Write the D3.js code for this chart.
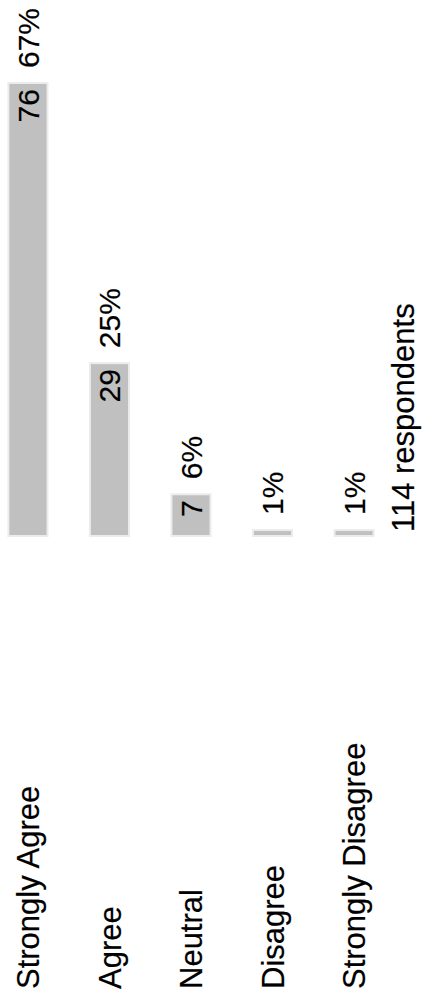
<!DOCTYPE html>
<html>
<head>
<meta charset="utf-8">
<script src="https://cdn.jsdelivr.net/npm/d3@7"></script>
<style>
  body { margin: 0; background: #fff; }
  text { font-family: "Liberation Sans", Arial, sans-serif; fill: #000; stroke: #000; stroke-width: 0.2px; }
</style>
</head>
<body>
<svg class="chart" width="422" height="1000"></svg>
<script>
var categories = ["Strongly Agree", "Agree", "Neutral", "Disagree", "Strongly Disagree"];
var counts = [76, 29, 7, 1, 1];
var respondents = 114;

var svg = d3.select("svg.chart"),
  width = +svg.attr("width"),
  height = +svg.attr("height");

var data = categories.map(function(c, i) {
  return {label: c, count: counts[i], pct: Math.round(counts[i] / respondents * 100)};
});

// chart is drawn turned on its side: bars grow upward, text reads bottom-to-top
var x = d3.scaleBand()
  .domain(categories)
  .range([-12.8, 394.8])
  .paddingInner(0.52)
  .paddingOuter(0.26);

var y = d3.scaleLinear()
  .domain([0, d3.max(counts)])
  .range([536, 83]);

var g = svg.append("g");

g.selectAll(".bar")
  .data(data)
  .enter().append("rect")
  .attr("class", "bar")
  .attr("x", function(d) { return x(d.label); })
  .attr("y", function(d) { return y(d.count); })
  .attr("width", x.bandwidth())
  .attr("height", function(d) { return y(0) - y(d.count); })
  .attr("fill", "#c0c0c0")
  .attr("stroke", "#ececec")
  .attr("stroke-width", 2);

// percentage above each bar
g.selectAll(".pct")
  .data(data)
  .enter().append("text")
  .attr("class", "pct")
  .attr("transform", function(d) {
    return "translate(" + (x(d.label) + x.bandwidth() / 2) + "," + (y(d.count) - 15) + ")rotate(-90)";
  })
  .attr("dy", "0.36em")
  .style("font-size", "30px")
  .text(function(d) { return d.pct + "%"; });

// count inside the bar top, only where there is room
g.selectAll(".count")
  .data(data.filter(function(d) { return y(0) - y(d.count) > 25; }))
  .enter().append("text")
  .attr("class", "count")
  .attr("transform", function(d) {
    return "translate(" + (x(d.label) + x.bandwidth() / 2) + "," + (y(d.count) + 6) + ")rotate(-90)";
  })
  .attr("dy", "0.36em")
  .attr("text-anchor", "end")
  .style("font-size", "30px")
  .text(function(d) { return d.count; });

// category labels along the bottom
var axis = g.append("g")
  .attr("transform", "translate(0,989)")
  .call(d3.axisBottom(x).tickSize(0));
axis.select(".domain").remove();
axis.selectAll("text")
  .attr("y", 0)
  .attr("dy", "0.36em")
  .attr("transform", "rotate(-90)")
  .attr("text-anchor", "start")
  .style("font-family", "'Liberation Sans', Arial, sans-serif")
  .style("font-size", "31px")
  .attr("fill", "#000");

g.append("text")
  .attr("transform", "translate(403,532)rotate(-90)")
  .attr("dy", "0.36em")
  .style("font-size", "31px")
  .text(respondents + " respondents");
</script>
</body>
</html>
